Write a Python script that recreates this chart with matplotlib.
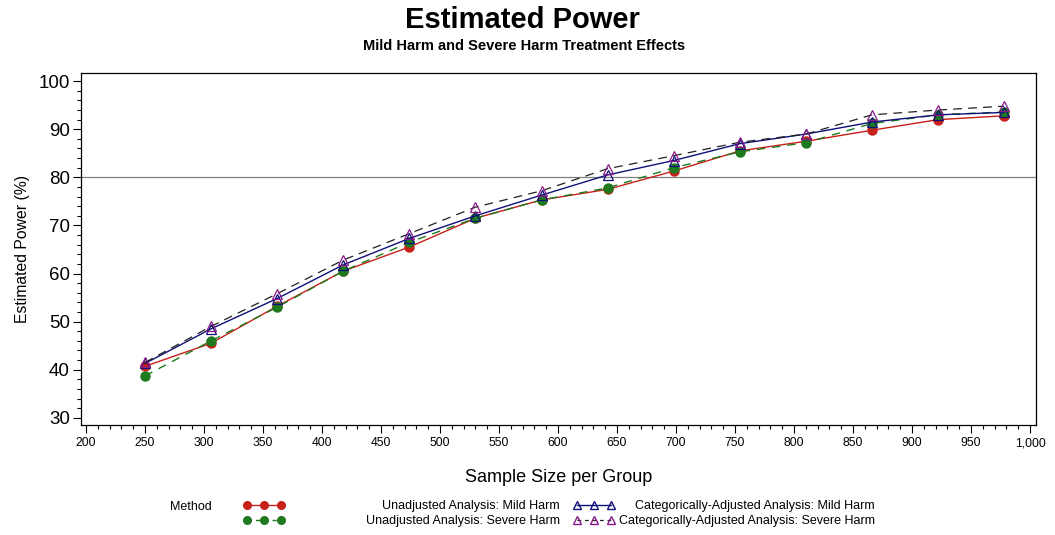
import matplotlib
matplotlib.use("Agg")
import matplotlib.pyplot as plt
from matplotlib.ticker import MultipleLocator, FuncFormatter

plt.rcParams['font.family'] = ['Liberation Sans', 'DejaVu Sans']

sample_size = [250, 306, 362, 418, 474, 530, 586, 642, 698, 754, 810, 866, 922, 978]
unadj_mild = [40.7, 45.5, 53.2, 60.5, 65.5, 71.5, 75.3, 77.5, 81.3, 85.5, 87.5, 89.8, 92.0, 92.8]
unadj_severe = [38.7, 46.0, 53.0, 60.5, 66.5, 71.5, 75.3, 77.8, 82.0, 85.3, 87.2, 91.2, 93.0, 93.6]
adj_mild = [41.3, 48.5, 54.8, 61.8, 67.3, 72.0, 76.3, 80.5, 83.5, 87.0, 89.0, 91.5, 93.0, 93.5]
adj_severe = [41.5, 49.0, 55.8, 62.8, 68.3, 73.8, 77.2, 81.8, 84.5, 87.3, 89.0, 93.0, 94.0, 94.8]

labels = ["Unadjusted Analysis: Mild Harm", "Unadjusted Analysis: Severe Harm",
          "Categorically-Adjusted Analysis: Mild Harm", "Categorically-Adjusted Analysis: Severe Harm"]

red = '#c8201a'
green = '#1e7a1e'
navy = '#10107a'
purple = '#8a1a8a'

fig = plt.figure(figsize=(10.55, 5.35), dpi=100)
ax = fig.add_axes([81/1055, 110/535, 955/1055, 352/535])

ax.axhline(80, color='#808080', lw=0.9, zorder=1)

ax.plot(sample_size, unadj_mild, color=red, lw=1.0, marker='o', ms=6.5, mfc=red, mec=red, zorder=3)
ax.plot(sample_size, unadj_severe, color=green, lw=1.0, ls=(0, (6, 5)), marker='o', ms=6.5, mfc=green, mec=green, zorder=4)
ax.plot(sample_size, adj_mild, color=navy, lw=1.0, marker='^', ms=6.5, mfc='none', mec=navy, mew=0.9, zorder=5)
ax.plot(sample_size, adj_severe, color='#202020', lw=0.9, ls=(0, (7, 5)), marker='^', ms=6.5, mfc='none', mec=purple, mew=0.9, zorder=5)

ax.set_xlim(195.8, 1005)
ax.set_ylim(28.5, 101.7)
ax.xaxis.set_major_locator(MultipleLocator(50))
ax.xaxis.set_minor_locator(MultipleLocator(10))
ax.yaxis.set_major_locator(MultipleLocator(10))
ax.yaxis.set_minor_locator(MultipleLocator(2))
ax.xaxis.set_major_formatter(FuncFormatter(lambda v, p: f"{int(round(v)):,}"))
ax.tick_params(axis='x', which='major', length=6, width=0.8, labelsize=8.7, pad=3)
ax.tick_params(axis='x', which='minor', length=3, width=0.8)
ax.tick_params(axis='y', which='major', length=6, width=0.8, labelsize=13.5, pad=2)
ax.tick_params(axis='y', which='minor', length=3, width=0.8)
for s in ax.spines.values():
    s.set_linewidth(0.9)

ax.set_xlabel("Sample Size per Group", fontsize=13, labelpad=14)
ax.set_ylabel("Estimated Power (%)", fontsize=11.3, labelpad=6)

fig.text(522/1055, 1 - 20/535, "Estimated Power", ha='center', va='center', fontsize=21, fontweight='bold')
fig.text(524/1055, 1 - 46/535, "Mild Harm and Severe Harm Treatment Effects", ha='center', va='center',
         fontsize=10.5, fontweight='bold')

# legend (pixel-coordinate overlay)
lg = fig.add_axes([0, 0, 1, 1], zorder=10)
lg.set_xlim(0, 1055)
lg.set_ylim(535, 0)
lg.axis('off')
lg.patch.set_alpha(0)
lx = [247, 264, 281]
tx = [577, 594, 611]
lg.text(170, 507, "Method", fontsize=9, va='center', ha='left')
lg.plot(lx, [505]*3, color=red, lw=1.0, marker='o', ms=5.5)
lg.plot(lx, [520]*3, color=green, lw=1.0, ls=(0, (3, 3)), marker='o', ms=5.5)
lg.plot(tx, [505]*3, color=navy, lw=1.0, marker='^', ms=5.5, mfc='none', mec=navy)
lg.plot(tx, [520]*3, color='#202020', lw=0.9, ls=(0, (3, 3)), marker='^', ms=5.5, mfc='none', mec=purple)
lg.text(560, 506, labels[0], fontsize=9, va='center', ha='right')
lg.text(560, 521, labels[1], fontsize=9, va='center', ha='right')
lg.text(875, 506, labels[2], fontsize=9, va='center', ha='right')
lg.text(875, 521, labels[3], fontsize=9, va='center', ha='right')

fig.savefig("out.png", dpi=100)
